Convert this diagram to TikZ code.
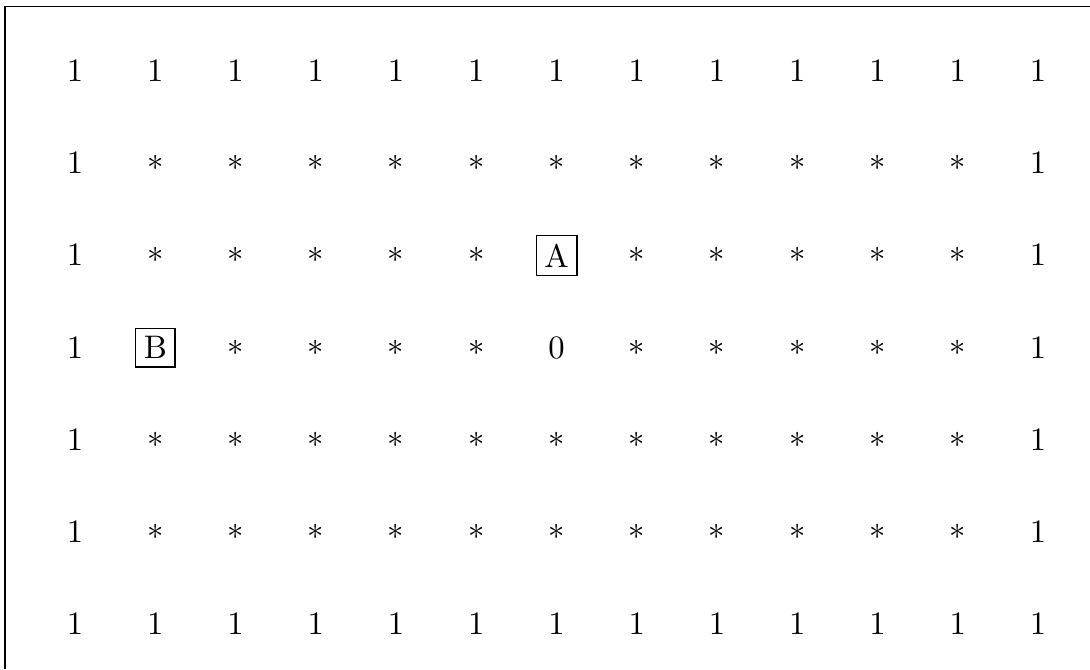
\documentclass[tikz,border=0pt]{standalone}
\begin{document}
\begin{tikzpicture}[x=1pt,y=1pt,
  cell/.style={inner sep=0pt,anchor=center},
  boxed/.style={draw,inner sep=2.5pt,anchor=center}]
\useasboundingbox (0,0) rectangle (334,-205);
\draw[line width=0.4pt] (1.5,-205) -- (1.5,-2.1) -- (334,-2.1);
\foreach \r in {1,...,7}{
  \foreach \c in {1,...,13}{
    \pgfmathsetmacro{\xx}{23.0+24.59*(\c-1)}
    \pgfmathsetmacro{\yy}{-21.75-28.25*(\r-1)}
    \ifnum\r=1
      \node[cell] (n-\r-\c) at (\xx,\yy) {$1$};
    \else\ifnum\r=7
      \node[cell] (n-\r-\c) at (\xx,\yy) {$1$};
    \else\ifnum\c=1
      \node[cell] (n-\r-\c) at (\xx,\yy) {$1$};
    \else\ifnum\c=13
      \node[cell] (n-\r-\c) at (\xx,\yy) {$1$};
    \else
      \ifnum\r=3 \ifnum\c=7
        \node[boxed] (n-\r-\c) at (\xx,\yy) {A};
      \else
        \node[cell] (n-\r-\c) at (\xx,\yy) {$*$};
      \fi
      \else\ifnum\r=4
        \ifnum\c=2
          \node[boxed] (n-\r-\c) at (\xx,\yy) {B};
        \else\ifnum\c=7
          \node[cell] (n-\r-\c) at (\xx,\yy) {$0$};
        \else
          \node[cell] (n-\r-\c) at (\xx,\yy) {$*$};
        \fi\fi
      \else
        \node[cell] (n-\r-\c) at (\xx,\yy) {$*$};
      \fi\fi
    \fi\fi\fi\fi
  }
}
\end{tikzpicture}
\end{document}
